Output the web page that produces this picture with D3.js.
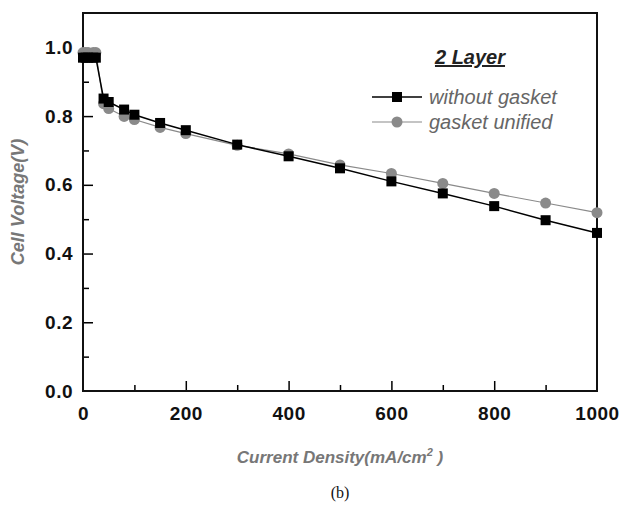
<!DOCTYPE html>
<html>
<head>
<meta charset="utf-8">
<title>Cell voltage vs current density</title>
<script src="https://cdnjs.cloudflare.com/ajax/libs/d3/7.8.5/d3.min.js"></script>
<style>
    body { margin: 0; background: #fff; }
    svg { display: block; }
    .tick text { font-family: "Liberation Sans", Arial, sans-serif; font-weight: bold; font-size: 19px; letter-spacing: 0.5px; fill: #111; }
</style>
</head>
<body>
<div id="chart"></div>
<script>
// current density (mA/cm2)
const currentNoGasket = [0, 5, 10, 20, 25, 40, 50, 80, 100, 150, 200, 300, 400, 500, 600, 700, 800, 900, 1000];
const voltageNoGasket = [0.97, 0.97, 0.97, 0.97, 0.97, 0.851, 0.841, 0.819, 0.804, 0.780, 0.759, 0.717, 0.683, 0.648, 0.610, 0.575, 0.538, 0.497, 0.460];
const currentUnified = [0, 5, 10, 20, 25, 40, 50, 80, 100, 150, 200, 300, 400, 500, 600, 700, 800, 900, 1000];
const voltageUnified = [0.985, 0.985, 0.985, 0.985, 0.985, 0.836, 0.822, 0.799, 0.790, 0.767, 0.749, 0.715, 0.690, 0.658, 0.633, 0.604, 0.575, 0.547, 0.519];

const xMajor = [0, 200, 400, 600, 800, 1000];
const xMinor = [100, 300, 500, 700, 900];
const yMajor = [0.0, 0.2, 0.4, 0.6, 0.8, 1.0];
const yMinor = [0.1, 0.3, 0.5, 0.7, 0.9];

const width = 629, height = 510;
const margin = { left: 83, right: 32, top: 13, bottom: 119 };

const svg = d3.select("#chart").append("svg")
    .attr("width", width).attr("height", height);

const x = d3.scaleLinear().domain([0, 1000]).range([margin.left, width - margin.right]);
const y = d3.scaleLinear().domain([0, 1.1]).range([height - margin.bottom, margin.top]);

// minor ticks (inward)
svg.append("g")
    .attr("transform", `translate(0,${y(0)})`)
    .call(d3.axisTop(x).tickValues(xMinor).tickSize(6).tickFormat(""))
    .call(g => g.select(".domain").remove())
    .call(g => g.selectAll("line").attr("stroke-width", 1.5));
svg.append("g")
    .attr("transform", `translate(${x(0)},0)`)
    .call(d3.axisRight(y).tickValues(yMinor).tickSize(6).tickFormat(""))
    .call(g => g.select(".domain").remove())
    .call(g => g.selectAll("line").attr("stroke-width", 1.5));

// major ticks with labels
svg.append("g")
    .attr("transform", `translate(0,${y(0)})`)
    .call(d3.axisBottom(x).tickValues(xMajor).tickSize(0).tickPadding(16).tickFormat(d3.format("d")))
    .call(g => g.select(".domain").remove());
svg.append("g")
    .attr("transform", `translate(0,${y(0)})`)
    .call(d3.axisTop(x).tickValues(xMajor.slice(1, -1)).tickSize(10).tickFormat(""))
    .call(g => g.select(".domain").remove())
    .call(g => g.selectAll("line").attr("stroke-width", 1.5));

svg.append("g")
    .attr("transform", `translate(${x(0)},0)`)
    .call(d3.axisLeft(y).tickValues(yMajor).tickSize(0).tickPadding(10).tickFormat(d3.format(".1f")))
    .call(g => g.select(".domain").remove());
svg.append("g")
    .attr("transform", `translate(${x(0)},0)`)
    .call(d3.axisRight(y).tickValues(yMajor.slice(1, -1)).tickSize(10).tickFormat(""))
    .call(g => g.select(".domain").remove())
    .call(g => g.selectAll("line").attr("stroke-width", 1.5));

// frame
svg.append("rect")
    .attr("x", x(0)).attr("y", y(1.1))
    .attr("width", x(1000) - x(0)).attr("height", y(0) - y(1.1))
    .attr("fill", "none").attr("stroke", "#111").attr("stroke-width", 2);

const line = d3.line().x(d => x(d[0])).y(d => y(d[1]));

const unified = currentUnified.map((c, i) => [c, voltageUnified[i]]);
const noGasket = currentNoGasket.map((c, i) => [c, voltageNoGasket[i]]);

svg.append("path").datum(unified)
    .attr("d", line).attr("fill", "none").attr("stroke", "#8a8a8a").attr("stroke-width", 1.2);
svg.append("g").selectAll("circle").data(unified).join("circle")
    .attr("cx", d => x(d[0])).attr("cy", d => y(d[1])).attr("r", 5.5)
    .attr("fill", "#8a8a8a");

svg.append("path").datum(noGasket)
    .attr("d", line).attr("fill", "none").attr("stroke", "#000").attr("stroke-width", 1.5);
svg.append("g").selectAll("rect").data(noGasket).join("rect")
    .attr("x", d => x(d[0]) - 5).attr("y", d => y(d[1]) - 5)
    .attr("width", 10).attr("height", 10).attr("fill", "#000");

// legend
const lg = svg.append("g").attr("font-family", "Liberation Sans, Arial, sans-serif");
lg.append("text").attr("x", 470).attr("y", 64).attr("text-anchor", "middle")
    .attr("font-size", 20).attr("font-weight", "bold").attr("font-style", "italic")
    .attr("fill", "#222").attr("text-decoration", "underline").text("2 Layer");

lg.append("line").attr("x1", 372).attr("x2", 422).attr("y1", 97).attr("y2", 97)
    .attr("stroke", "#000").attr("stroke-width", 1.5);
lg.append("rect").attr("x", 392).attr("y", 92).attr("width", 10).attr("height", 10).attr("fill", "#000");
lg.append("text").attr("x", 429).attr("y", 104).attr("font-size", 20).attr("font-style", "italic")
    .attr("fill", "#666").text("without gasket");

lg.append("line").attr("x1", 372).attr("x2", 422).attr("y1", 122).attr("y2", 122)
    .attr("stroke", "#8a8a8a").attr("stroke-width", 1.2);
lg.append("circle").attr("cx", 397).attr("cy", 122).attr("r", 5.5).attr("fill", "#8a8a8a");
lg.append("text").attr("x", 429).attr("y", 129).attr("font-size", 20).attr("font-style", "italic")
    .attr("fill", "#666").text("gasket unified");

// axis titles
svg.append("text")
    .attr("transform", `translate(24,${(y(0) + y(1.1)) / 2}) rotate(-90)`)
    .attr("text-anchor", "middle")
    .attr("font-family", "Liberation Sans, Arial, sans-serif")
    .attr("font-size", 18).attr("font-weight", "bold").attr("font-style", "italic")
    .attr("fill", "#777").text("Cell Voltage(V)");

const xt = svg.append("text")
    .attr("x", x(500)).attr("y", 463)
    .attr("text-anchor", "middle")
    .attr("font-family", "Liberation Sans, Arial, sans-serif")
    .attr("font-size", 17).attr("font-weight", "bold").attr("font-style", "italic")
    .attr("fill", "#777");
xt.append("tspan").text("Current Density(mA/cm");
xt.append("tspan").attr("font-size", 11).attr("dy", -7).text("2");
xt.append("tspan").attr("dy", 7).text(" )");

svg.append("text")
    .attr("x", x(500)).attr("y", 498)
    .attr("text-anchor", "middle")
    .attr("font-family", "Liberation Serif, Times New Roman, serif")
    .attr("font-size", 16).attr("fill", "#111").text("(b)");
</script>
</body>
</html>
